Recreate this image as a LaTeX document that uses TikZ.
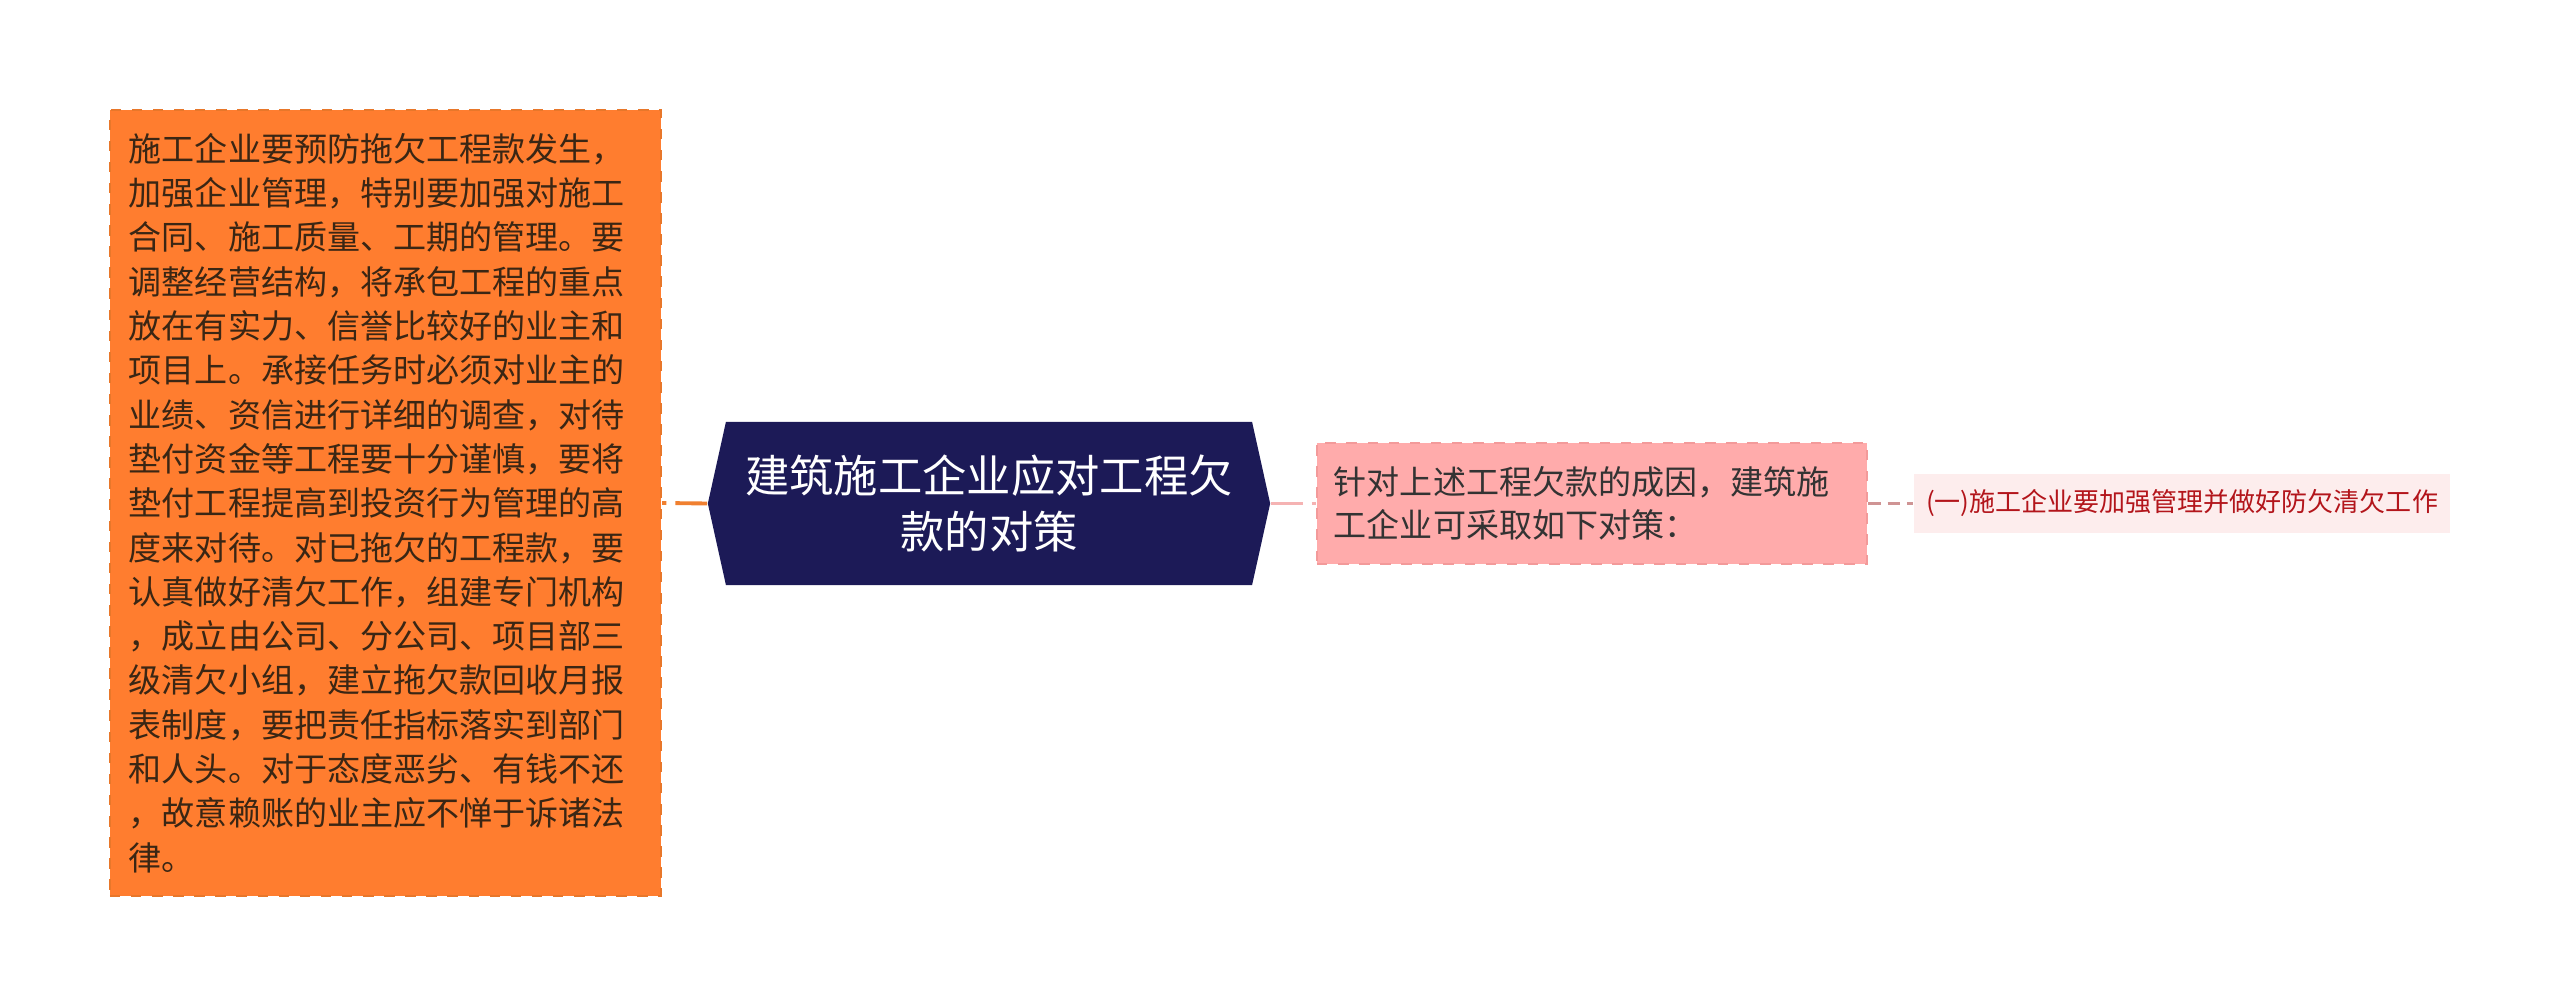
\documentclass[tikz,border=0pt]{standalone}
\usepackage{fontspec}
\usetikzlibrary{shapes.symbols}
\newfontfamily\cjk{Noto Sans CJK SC}
\definecolor{askfill}{HTML}{FF7D2F}
\definecolor{askline}{HTML}{E8772A}
\definecolor{asktext}{HTML}{3A2614}
\definecolor{rootfill}{HTML}{1C1A57}
\definecolor{subfill}{HTML}{FFABAB}
\definecolor{subline}{HTML}{F39A9A}
\definecolor{subtext}{HTML}{333333}
\definecolor{leaffill}{HTML}{FDEDED}
\definecolor{leaftext}{HTML}{B3151B}
\definecolor{linkorange}{HTML}{F08030}
\definecolor{linkpink}{HTML}{F5B3B3}
\definecolor{linkgray}{HTML}{CF9494}
\begin{document}
\begin{tikzpicture}[x=0.01cm,y=-0.01cm,
    askbox/.style={rectangle,fill=askfill,draw=askline,dashed,line width=0.6pt,
      minimum width=5.51cm,minimum height=7.86cm,inner sep=0pt,
      text width=5.13cm,align=left,text=asktext,font=\cjk\fontsize{9.4}{12.6}\selectfont},
    rootbox/.style={signal,signal to=east and west,signal pointer angle=155,
      fill=rootfill,minimum width=5.62cm,minimum height=1.63cm,inner sep=0pt,
      align=center,text=white,font=\cjk\fontsize{12.6}{15.8}\selectfont},
    subbox/.style={rectangle,fill=subfill,draw=subline,dashed,line width=0.6pt,
      minimum width=5.5cm,minimum height=1.21cm,inner sep=0pt,
      text width=5.16cm,align=left,text=subtext,font=\cjk\fontsize{9.4}{12.1}\selectfont},
    leafbox/.style={rectangle,fill=leaffill,minimum width=5.36cm,minimum height=0.59cm,
      inner sep=0pt,align=center,text=leaftext,font=\cjk\fontsize{7.4}{9}\selectfont},
    linkmain/.style={line width=1.1pt,dash pattern=on 9pt off 2.6pt}]
  \useasboundingbox (0,0) rectangle (2560,1007);
  \node[askbox] (ask) at (385.5,503) {施工企业要预防拖欠工程款发生，\\加强企业管理，特别要加强对施工\\合同、施工质量、工期的管理。要\\调整经营结构，将承包工程的重点\\放在有实力、信誉比较好的业主和\\项目上。承接任务时必须对业主的\\业绩、资信进行详细的调查，对待\\垫付资金等工程要十分谨慎，要将\\垫付工程提高到投资行为管理的高\\度来对待。对已拖欠的工程款，要\\认真做好清欠工作，组建专门机构\\，成立由公司、分公司、项目部三\\级清欠小组，建立拖欠款回收月报\\表制度，要把责任指标落实到部门\\和人头。对于态度恶劣、有钱不还\\，故意赖账的业主应不惮于诉诸法\\律。};
  \node[rootbox] (root) at (989,503.5) {建筑施工企业应对工程欠\\款的对策};
  \node[subbox] (sub) at (1592,503.5) {针对上述工程欠款的成因，建筑施\\工企业可采取如下对策：};
  \node[leafbox] (leaf) at (2182,503.5) {(一)施工企业要加强管理并做好防欠清欠工作};
  \draw[linkmain,linkorange] (root.west) -- (ask.east);
  \draw[linkmain,linkpink] (root.east) -- (sub.west);
  \draw[linkgray,line width=0.6pt,dash pattern=on 3.5pt off 2pt] (sub.east) -- (leaf.west);
\end{tikzpicture}
\end{document}
